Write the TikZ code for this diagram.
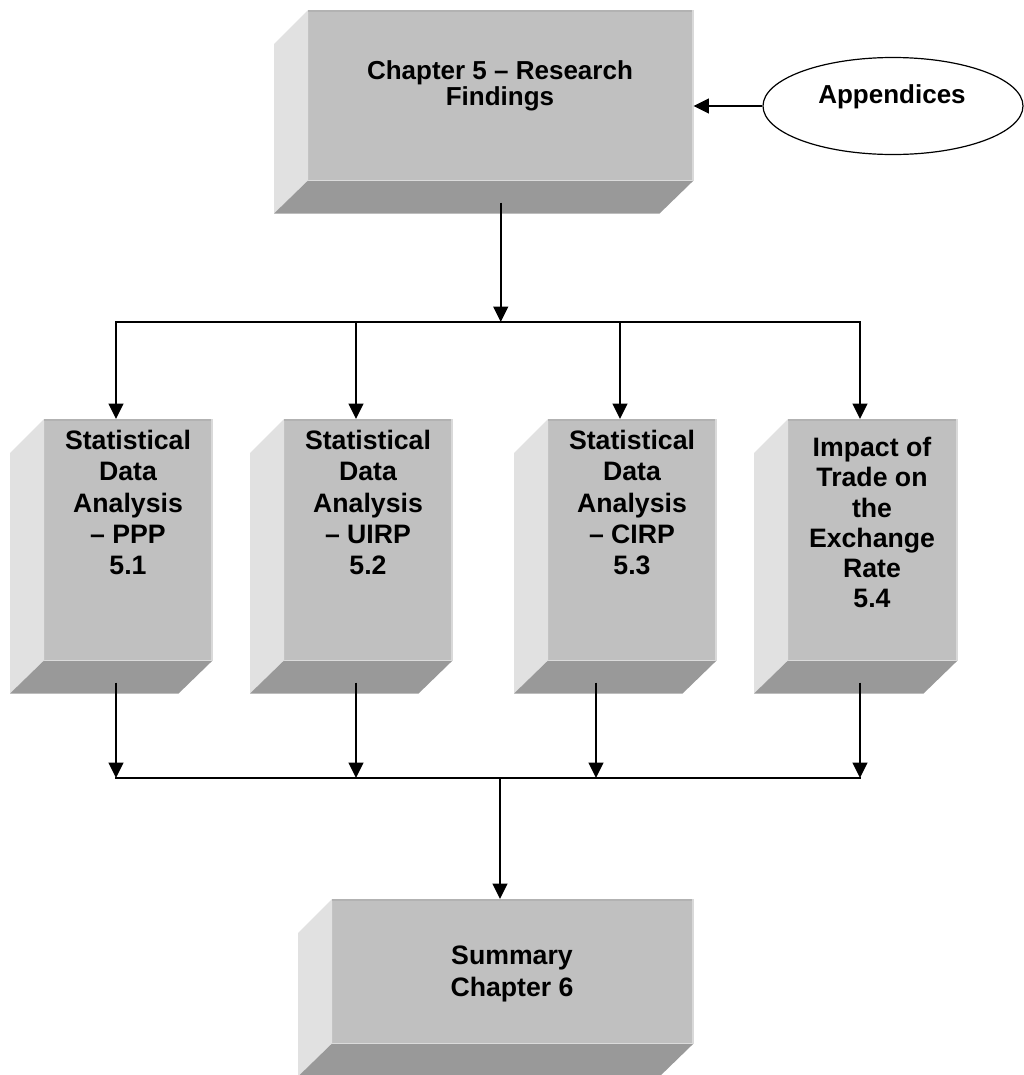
\documentclass[tikz,border=0pt]{standalone}
\usepackage{fontspec}
\setmainfont{Liberation Sans}
\usetikzlibrary{calc,shapes.geometric,arrows.meta}
\definecolor{facegray}{HTML}{C0C0C0}
\definecolor{sidegray}{HTML}{E1E1E1}
\definecolor{botgray}{HTML}{999999}
\definecolor{topedge}{HTML}{B2B2B2}
\definecolor{rightedge}{HTML}{D9D9D9}
\tikzset{
  front/.style 2 args={fill=facegray, inner sep=0pt, anchor=north west,
    minimum width=#1*0.75pt, minimum height=#2*0.75pt},
  txt/.style={inner sep=0pt, anchor=north, align=center, font=\bfseries\fontsize{20}{23.5}\selectfont},
  conn/.style={line width=1.5pt, line cap=rect},
  arr/.style={line width=1.5pt, -{Triangle[length=11.5pt,width=11pt]}},
  oval/.style={ellipse, draw, line width=0.9pt, fill=white, inner sep=0pt,
    minimum width=195pt, minimum height=72.75pt}
}
\begin{document}
\begin{tikzpicture}[x=0.75pt,y=-0.75pt]
\useasboundingbox (0,0) rectangle (1024,1075);
% front faces
\node[front={385}{170}] (top) at (308,10) {};
\node[front={168}{241}] (b1) at (44,419) {};
\node[front={168}{241}] (b2) at (284,419) {};
\node[front={168}{241}] (b3) at (548,419) {};
\node[front={169}{241}] (b4) at (788,419) {};
\node[front={361}{144}] (sum) at (332,899) {};
% bevels
\foreach \n in {top,b1,b2,b3,b4,sum}{
  \fill[sidegray] (\n.north west) -- ++(-34,34) -- ($(\n.south west)+(-34,33)$) -- (\n.south west) -- cycle;
  \fill[botgray] (\n.south west) -- ($(\n.south west)+(-34,33)$) -- ($(\n.south east)+(-34,33)$) -- (\n.south east) -- cycle;
  \draw[topedge, line width=1.5pt] ($(\n.north west)+(0,1)$) -- ($(\n.north east)+(0,1)$);
  \draw[rightedge, line width=1.5pt] ($(\n.north east)+(-1,0)$) -- ($(\n.south east)+(-1,0)$);
}
% texts
\node[txt, font=\bfseries\fontsize{19.5}{19.5}\selectfont] (toptxt) at (500,60) {Chapter 5 – Research\\Findings};
\node[txt] (t1) at (128,430) {Statistical\\Data\\Analysis\\– PPP\\5.1};
\node[txt] (t2) at (368,430) {Statistical\\Data\\Analysis\\– UIRP\\5.2};
\node[txt] (t3) at (632,430) {Statistical\\Data\\Analysis\\– CIRP\\5.3};
\node[txt, font=\bfseries\fontsize{20}{22.7}\selectfont] (t4) at (872,437) {Impact of\\Trade on\\the\\Exchange\\Rate\\5.4};
\node[txt, font=\bfseries\fontsize{20}{24}\selectfont] (sumtxt) at (512,946) {Summary\\Chapter 6};
% appendices
\node[oval] (app) at (893,106) {};
\node[inner sep=0pt, font=\bfseries\fontsize{19.5}{23}\selectfont] (apptxt) at (892,97) {Appendices};
\draw[arr] (app.west) -- (app.west -| top.east);
% junction coordinates
\coordinate (j) at (500,322);
\coordinate (ja) at (116,322);
\coordinate (jb) at (356,322);
\coordinate (jc) at (620,322);
\coordinate (jd) at (860,322);
\coordinate (k) at (500,778);
\coordinate (ka) at (116,778);
\coordinate (kb) at (356,778);
\coordinate (kc) at (596,778);
\coordinate (kd) at (860,778);
% top connectors
\draw[arr] ($(top.south)+(0,22)$) -- (top.south |- j);
\draw[conn] (ja) -- (jd);
\draw[arr] (ja) -- (ja |- b1.north);
\draw[arr] (jb) -- (jb |- b2.north);
\draw[arr] (jc) -- (jc |- b3.north);
\draw[arr] (jd) -- (jd |- b4.north);
% bottom connectors
\draw[arr] ($(b1.south west)+(72,22)$) -- (ka);
\draw[arr] ($(b2.south west)+(72,22)$) -- (kb);
\draw[arr] ($(b3.south west)+(48,22)$) -- (kc);
\draw[arr] ($(b4.south west)+(72,22)$) -- (kd);
\draw[conn] (ka) -- (kd);
\draw[arr] (k) -- (k |- sum.north);
\end{tikzpicture}
\end{document}
